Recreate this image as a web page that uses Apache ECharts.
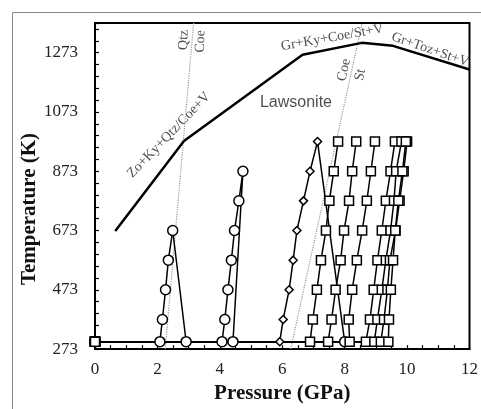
<!DOCTYPE html>
<html>
<head>
<meta charset="utf-8">
<script src="https://cdn.jsdelivr.net/npm/echarts@6/dist/echarts.min.js"></script>
<style>
  html, body { margin: 0; padding: 0; background: #fff; }
  #chart { width: 481px; height: 409px; }
</style>
</head>
<body>
<div id="chart"></div>
<script>
// heating steps (K)
const tempLevels = [298, 373, 473, 573, 673, 773, 873, 973]

// circle / diamond runs: [GPa, K]
const circleA = [[0, 298], [2.08, 298], [2.16, 373], [2.26, 473], [2.35, 573], [2.49, 673], [2.92, 298]]
const circleB = [[0, 298], [4.07, 298], [4.16, 373], [4.26, 473], [4.37, 573], [4.47, 673], [4.61, 773], [4.74, 873], [4.42, 298]]
const diamondC = [[0, 298], [5.92, 298], [6.03, 373], [6.22, 473], [6.35, 573], [6.47, 673], [6.68, 773], [6.89, 873], [7.13, 973], [8.0, 298]]

// square runs: pressure at each of tempLevels
const squareP1 = [6.89, 6.98, 7.11, 7.24, 7.40, 7.51, 7.65, 7.79]
const squareP2 = [7.47, 7.58, 7.71, 7.87, 7.98, 8.14, 8.24, 8.37]
const squareP3 = [8.16, 8.13, 8.24, 8.39, 8.56, 8.71, 8.84, 8.97]
const squareP4 = [8.68, 8.81, 8.93, 9.05, 9.19, 9.32, 9.47, 9.61]
const squareP5 = [8.95, 9.05, 9.19, 9.32, 9.47, 9.58, 9.65, 9.82]
const squareP6 = [9.16, 9.26, 9.37, 9.45, 9.63, 9.76, 9.89, 10.0]
const squareP7 = [9.40, 9.42, 9.48, 9.55, 9.62, 9.72, 9.85, 9.96]

// phase boundaries
const lawsoniteP = [0.65, 2.85, 6.65, 8.55, 9.55, 12]
const lawsoniteT = [671, 975, 1266, 1306, 1296, 1216]
const qtzCoeP = [2.25, 3.16]
const coeStP = [6.27, 8.56]
const boundT = [273, 1373]

// text labels
const annoText = ['Qtz', 'Coe', 'Coe', 'St', 'Zo+Ky+Qtz/Coe+V', 'Gr+Ky+Coe/St+V', 'Gr+Toz+St+V', 'Lawsonite']
const annoP = [2.84, 3.38, 7.98, 8.5, 2.37, 7.60, 10.74, 6.44]
const annoT = [1316, 1311, 1215, 1198, 995, 1324, 1283, 1105]
const annoRot = [88, 88, 78, 78, 46, 10, -19, 0]

const serif = '"Liberation Serif", "DejaVu Serif", serif'

function zip(xs, ys) {
  return xs.map((x, i) => [x, ys[i]])
}

function markerLine(data, symbol, size) {
  return {
    type: 'line',
    data: data,
    symbol: symbol,
    symbolSize: size,
    showAllSymbol: true,
    lineStyle: { color: '#000', width: 1.5 },
    itemStyle: { color: '#fff', borderColor: '#000', borderWidth: 1.5 },
    z: 3
  }
}

const squareRuns = [squareP1, squareP2, squareP3, squareP4, squareP5, squareP6, squareP7]

const diamondData = diamondC.map((p, i) => i === diamondC.length - 1 ? { value: p, symbol: 'circle', symbolSize: 10 } : p)

const series = [
  {
    type: 'line',
    data: zip(lawsoniteP, lawsoniteT),
    symbol: 'none',
    lineStyle: { color: '#000', width: 2.5 },
    z: 2
  },
  {
    type: 'line',
    data: zip(qtzCoeP, boundT),
    symbol: 'none',
    lineStyle: { color: '#999', width: 1.2, type: 'dotted' },
    z: 1
  },
  {
    type: 'line',
    data: zip(coeStP, boundT),
    symbol: 'none',
    lineStyle: { color: '#999', width: 1.2, type: 'dotted' },
    z: 1
  },
  markerLine(circleA, 'circle', 10),
  markerLine(circleB, 'circle', 10),
  markerLine(diamondData, 'diamond', 8)
]
squareRuns.forEach(run => {
  series.push(markerLine([[0, 298]].concat(zip(run, tempLevels)), 'rect', 9))
})
series.push({
  type: 'scatter',
  symbolSize: 0,
  silent: true,
  z: 5,
  data: annoText.map((t, i) => ({
    name: t,
    value: [annoP[i], annoT[i]],
    label: {
      rotate: annoRot[i],
      fontFamily: t === 'Lawsonite' ? '"Liberation Sans", sans-serif' : serif,
      fontSize: t === 'Lawsonite' ? 16 : 14
    }
  })),
  label: {
    show: true,
    position: 'inside',
    formatter: '{b}',
    color: '#222'
  }
})

const chart = echarts.init(document.getElementById('chart'))
chart.setOption({
  animation: false,
  grid: {
    left: 95,
    top: 23,
    width: 380,
    height: 335,
    show: true,
    borderColor: '#000',
    borderWidth: 2,
    backgroundColor: 'transparent'
  },
  xAxis: {
    type: 'value',
    min: 0,
    max: 12,
    interval: 2,
    name: 'Pressure (GPa)',
    nameLocation: 'middle',
    nameGap: 32,
    nameTextStyle: { fontFamily: serif, fontWeight: 'bold', fontSize: 21, color: '#111' },
    axisLine: { lineStyle: { color: '#000', width: 2 } },
    axisTick: { inside: true, length: 4, lineStyle: { color: '#000', width: 1.2 } },
    minorTick: { show: true, splitNumber: 4, length: 4, lineStyle: { color: '#000', width: 1.2 } },
    axisLabel: { fontFamily: serif, fontSize: 17, color: '#222', margin: 12 },
    splitLine: { show: false }
  },
  yAxis: [
    {
      type: 'value',
      position: 'left',
      min: 273,
      max: 1373,
      interval: 200,
      axisLine: { lineStyle: { color: '#000', width: 2 } },
      axisTick: { show: false },
      axisLabel: {
        fontFamily: serif,
        fontSize: 17,
        color: '#222',
        margin: 17,
        formatter: v => (v === 1373 ? '' : String(v))
      },
      splitLine: { show: false }
    },
    {
      type: 'value',
      position: 'left',
      min: 273,
      max: 1373,
      interval: 40,
      axisLine: { show: false },
      axisTick: { inside: true, length: 4, lineStyle: { color: '#000', width: 1.2 } },
      axisLabel: { show: false },
      splitLine: { show: false }
    }
  ],
  graphic: [
    {
      type: 'rect',
      shape: { x: 12.5, y: 12.5, width: 600, height: 600 },
      style: { fill: null, stroke: '#8a8a8a', lineWidth: 1 },
      silent: true
    },
    {
      type: 'text',
      x: 30,
      y: 209,
      rotation: Math.PI / 2,
      style: {
        text: 'Temperature (K)',
        font: 'bold 21px ' + serif,
        fill: '#111',
        align: 'center',
        verticalAlign: 'middle'
      }
    }
  ],
  series: series
})
</script>
</body>
</html>
